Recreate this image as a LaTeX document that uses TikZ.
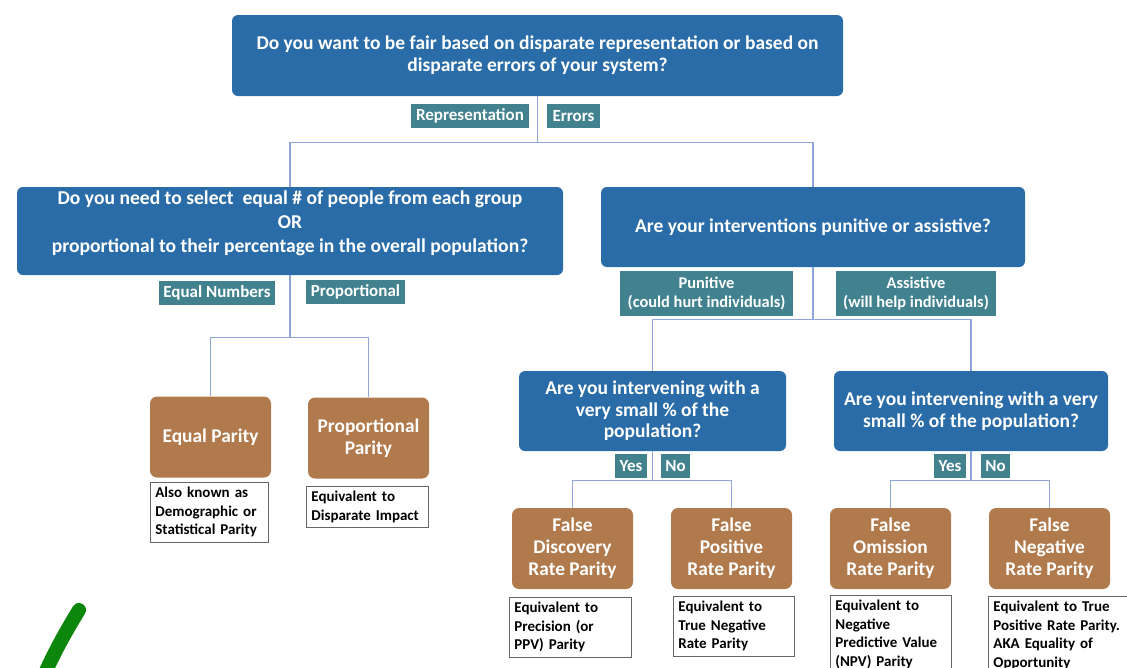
\documentclass[tikz,border=0pt]{standalone}
\usepackage{fontspec}
\setmainfont{Carlito}
\definecolor{qblue}{RGB}{42,108,167}
\definecolor{tagteal}{RGB}{66,130,143}
\definecolor{leafbrown}{RGB}{176,122,76}
\definecolor{lineblue}{RGB}{143,165,218}
\definecolor{checkgreen}{RGB}{12,135,12}
\begin{document}
\begin{tikzpicture}[x=1pt,y=-1pt,
  q/.style={fill=qblue, rounded corners=6pt, text=white, align=center, inner sep=0pt,
            font=\bfseries\fontsize{19.5}{22}\selectfont},
  tag/.style={fill=tagteal, text=white, align=center, inner sep=0pt, minimum height=24pt,
            font=\bfseries\fontsize{17}{19}\selectfont},
  leaf/.style={fill=leafbrown, rounded corners=7pt, text=white, align=center, inner sep=0pt,
            minimum width=121pt, minimum height=81pt, font=\bfseries\fontsize{19.4}{22}\selectfont},
  note/.style={draw=black!60, line width=0.8pt, fill=white, anchor=north west, align=left,
            inner sep=5pt, font=\bfseries\fontsize{15}{18.5}\selectfont},
  conn/.style={draw=lineblue, line width=1.2pt}]
\useasboundingbox (0,0) rectangle (1127,667);

% question boxes
\node[q, minimum width=611pt, minimum height=81pt] (top) at (537.5,55.5)
  {Do you want to be fair based on disparate representation or based on\\disparate errors of your system?};
\node[q, minimum width=546pt, minimum height=88pt] (left) at (290,231) {};
\node[text=white, align=center, inner sep=0pt, font=\bfseries\fontsize{19.6}{24}\selectfont] (lefttext) at (290,223)
  {Do you need to select\ \ equal \# of people from each group\\OR\\proportional to their percentage in the overall population?};
\node[q, minimum width=424pt, minimum height=80pt] (right) at (813,227)
  {Are your interventions punitive or assistive?};
\node[q, minimum width=267pt, minimum height=80pt, font=\bfseries\fontsize{19.5}{21.5}\selectfont] (midl) at (652.5,411)
  {Are you intervening with a\\very small \% of the\\population?};
\node[q, minimum width=274pt, minimum height=80pt, font=\bfseries\fontsize{19.5}{21.5}\selectfont] (midr) at (971,411)
  {Are you intervening with a very\\small \% of the population?};

% leaves
\node[leaf] (eqp) at (210.5,437) {Equal Parity};
\node[leaf] (prp) at (368.5,438) {Proportional\\Parity};
\node[leaf] (fdr) at (572.5,548.5) {False\\Discovery\\Rate Parity};
\node[leaf] (fpr) at (731.5,548.5) {False\\Positive\\Rate Parity};
\node[leaf] (for) at (890.5,548.5) {False\\Omission\\Rate Parity};
\node[leaf] (fnr) at (1049.5,548.5) {False\\Negative\\Rate Parity};

% connectors
\draw[conn] (top.south) -- ++(0,46) coordinate (j1);
\draw[conn] (j1) -| (left.north);
\draw[conn] (j1) -| (right.north);
\draw[conn] (left.south) -- ++(0,62) coordinate (j2);
\draw[conn] (j2) -| (eqp.north);
\draw[conn] (j2) -| (prp.north);
\draw[conn] (right.south) -- ++(0,52) coordinate (j3);
\draw[conn] (j3) -| (midl.north);
\draw[conn] (j3) -| (midr.north);
\draw[conn] (midl.south) -- ++(0,29) coordinate (j4);
\draw[conn] (j4) -| (fdr.north);
\draw[conn] (j4) -| (fpr.north);
\draw[conn] (midr.south) -- ++(0,29) coordinate (j5);
\draw[conn] (j5) -| (for.north);
\draw[conn] (j5) -| (fnr.north);

% tags
\node[tag, minimum width=118pt] (trep) at (470,116) {Representation};
\node[tag, minimum width=53pt] (terr) at (573.5,116) {Errors};
\node[tag, minimum width=116pt] (teq) at (217,293) {Equal Numbers};
\node[tag, minimum width=99pt] (tprop) at (355.5,292) {Proportional};
\node[tag, minimum width=173pt, minimum height=45pt, font=\bfseries\fontsize{16.4}{19}\selectfont] (tpun) at (706.5,293.5) {Punitive\\(could hurt individuals)};
\node[tag, minimum width=160pt, minimum height=45pt, font=\bfseries\fontsize{16.4}{19}\selectfont] (tass) at (916,293.5) {Assistive\\(will help individuals)};
\node[tag, minimum width=32pt] (tyl) at (631,466) {Yes};
\node[tag, minimum width=29pt] (tnl) at (675.5,466) {No};
\node[tag, minimum width=32pt] (tyr) at (950,466) {Yes};
\node[tag, minimum width=29pt] (tnr) at (995.5,466) {No};

% notes
\node[note, text width=108pt] (neq) at (150,482) {Also known as\\Demographic or\\Statistical Parity};
\node[note, text width=112pt] (nprp) at (306,486) {Equivalent to\\Disparate Impact};
\node[note, text width=112pt] (nfdr) at (509,597) {Equivalent to\\Precision (or\\PPV) Parity};
\node[note, text width=111pt] (nfpr) at (673,596) {Equivalent to\\True Negative\\Rate Parity};
\node[note, text width=111pt] (nfor) at (830,595) {Equivalent to\\Negative\\Predictive Value\\(NPV) Parity};
\node[note, text width=140pt] (nfnr) at (988,596) {Equivalent to True\\Positive Rate Parity.\\AKA Equality of\\Opportunity};

% green check stroke
\draw[checkgreen, line width=14pt, line cap=round] (79,610) .. controls (68,628) and (55,650) .. (42,680);
\end{tikzpicture}
\end{document}
